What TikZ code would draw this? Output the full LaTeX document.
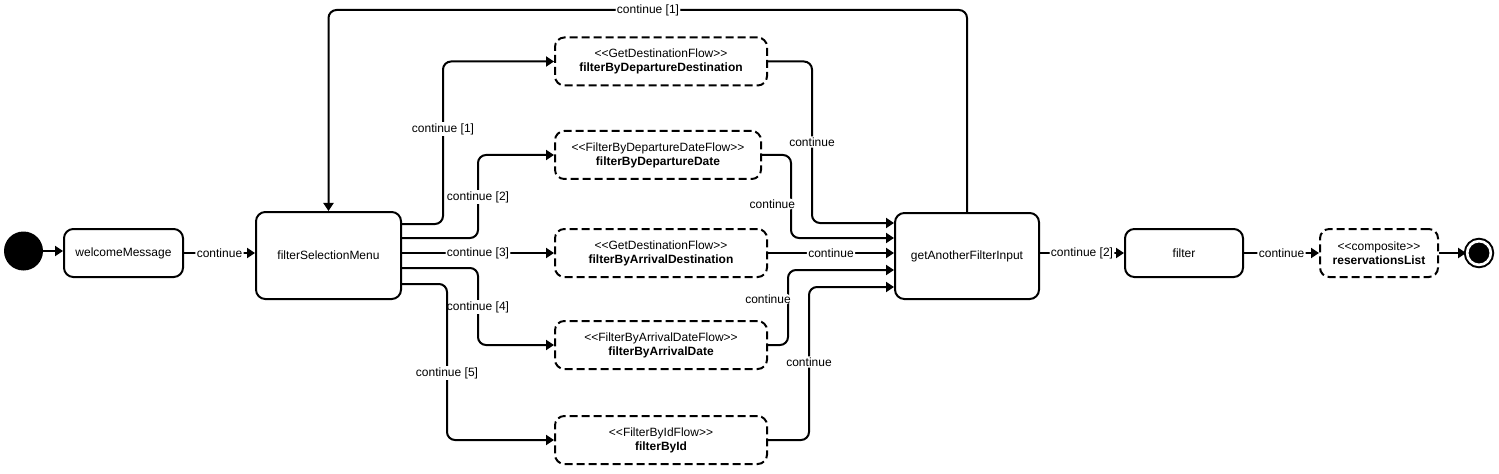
\documentclass[tikz,border=0pt]{standalone}
\usepackage{fontspec}
\setmainfont{Liberation Sans}
\usetikzlibrary{arrows.meta,calc}

\begin{document}
\begin{tikzpicture}[x=0.75pt,y=-0.75pt,
            act/.style={shape=rectangle,rounded corners=7pt,draw=black,line width=1.5pt,align=center,inner sep=2pt,minimum height=36pt,font=\fontsize{9}{10.5}\selectfont},
            sub/.style={act,dash pattern=on 6pt off 3pt,minimum width=159pt},
            lbl/.style={fill=white,inner sep=1pt,font=\fontsize{9}{10.5}\selectfont},
            flow/.style={-{Triangle[length=6pt,width=7.5pt]},line width=1.5pt,rounded corners=6pt}]
            	
            	\useasboundingbox (0,0) rectangle (1499,474);
            	
            	\node[shape=circle,fill=black,minimum size=29.25pt,inner sep=0pt] (start) at (23.5, 251) {};
            	\node[act,minimum width=89.25pt] (welcome) at (123.5, 253) {welcomeMessage};
            	\node[act,minimum width=108.75pt,minimum height=65.25pt] (menu) at (328.5, 255.5) {filterSelectionMenu};
            	\node[sub] (depdest) at (661, 61.5) {<\kern0pt<GetDestinationFlow>\kern0pt>\\\textbf{filterByDepartureDestination}};
            	\node[sub,minimum width=154.5pt] (depdate) at (658, 155) {<\kern0pt<FilterByDepartureDateFlow>\kern0pt>\\\textbf{filterByDepartureDate}};
            	\node[sub] (arrdest) at (661, 253) {<\kern0pt<GetDestinationFlow>\kern0pt>\\\textbf{filterByArrivalDestination}};
            	\node[sub] (arrdate) at (661, 345) {<\kern0pt<FilterByArrivalDateFlow>\kern0pt>\\\textbf{filterByArrivalDate}};
            	\node[sub] (byid) at (661, 440) {<\kern0pt<FilterByIdFlow>\kern0pt>\\\textbf{filterById}};
            	\node[act,minimum width=108pt,minimum height=64.5pt] (another) at (967, 256) {getAnotherFilterInput};
            	\node[act,minimum width=88.5pt] (filter) at (1184, 253) {filter};
            	\node[sub,minimum width=88.5pt] (list) at (1379, 253) {<\kern0pt<composite>\kern0pt>\\\textbf{reservationsList}};
            	\node[shape=circle,fill=black,draw=black,double=white,double distance=2pt,line width=1.5pt,minimum size=17.8pt,inner sep=0pt] (end) at (1479, 253) {};
            
            	\draw[flow] (start) -- (start -| welcome.west);
            	\draw[flow] (welcome) -- node[lbl] {continue} (welcome -| menu.west);
            	\draw[flow] ($(menu.north east)+(0,13)$) -| (443,129) node[lbl] {continue [1]} |- (depdest);
            	\draw[flow] ($(menu.north east)+(0,27)$) -| (478,197) node[lbl] {continue [2]} |- (depdate);
            	\draw[flow] (menu.east |- arrdest) -- node[lbl] {continue [3]} (arrdest);
            	\draw[flow] ($(menu.north east)+(0,57)$) -| (478,307) node[lbl] {continue [4]} |- (arrdate);
            	\draw[flow] ($(menu.north east)+(0,73)$) -| (447,373) node[lbl] {continue [5]} |- (byid);
            	\draw[flow] (depdest.east) -| (812,142) node[lbl] {continue} |- ($(another.north west)+(0,11)$);
            	\draw[flow] (depdate.east) -| (791,204) node[lbl,xshift=-14pt] {continue} |- ($(another.north west)+(0,26)$);
            	\draw[flow] (arrdest) -- node[lbl] {continue} (arrdest -| another.west);
            	\draw[flow] (arrdate.east) -| (788,299) node[lbl,xshift=-15pt] {continue} |- ($(another.north west)+(0,58)$);
            	\draw[flow] (byid.east) -| (809,362) node[lbl] {continue} |- ($(another.north west)+(0,75)$);
            	\draw[flow] (another.north) |- (648,10) node[lbl] {continue [1]} -| (menu.north);
            	\draw[flow] (another.east |- filter) -- node[lbl] {continue [2]} (filter);
            	\draw[flow] (filter) -- node[lbl] {continue} (list);
            	\draw[flow] (list) -- (end);
            	\end{tikzpicture}
\end{document}
